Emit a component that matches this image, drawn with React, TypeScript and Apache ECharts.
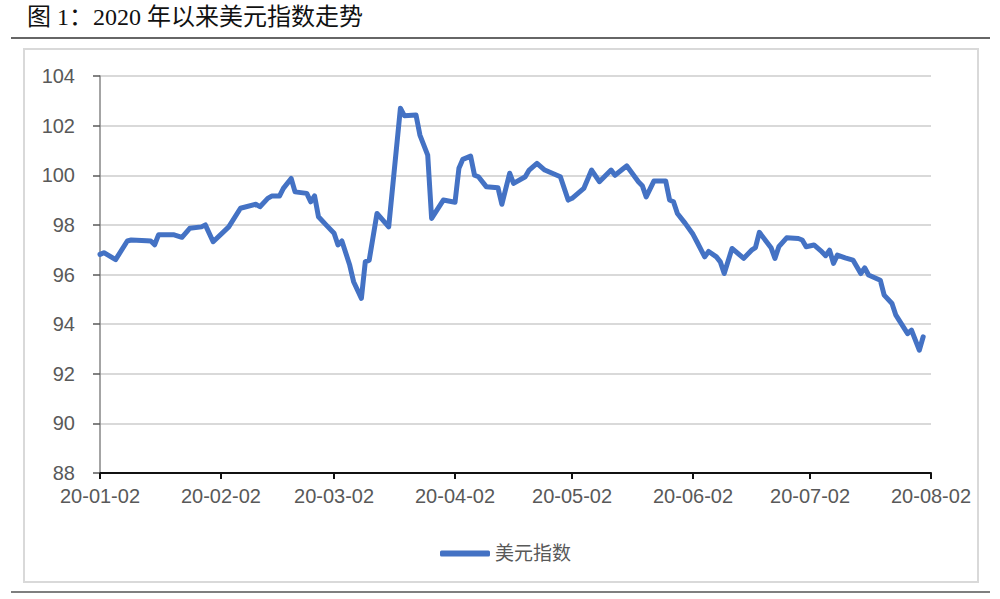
import React, { useEffect, useRef } from "react";
import * as echarts from "echarts";

const titleText = "图 1：2020 年以来美元指数走势";
const seriesName = "美元指数";

const dates = [
  "2020-01-02", "2020-01-03", "2020-01-06", "2020-01-09", "2020-01-10", "2020-01-14", "2020-01-15",
  "2020-01-16", "2020-01-17", "2020-01-21", "2020-01-23", "2020-01-25", "2020-01-28", "2020-01-29",
  "2020-01-31", "2020-02-04", "2020-02-07", "2020-02-11", "2020-02-12", "2020-02-14", "2020-02-15",
  "2020-02-17", "2020-02-18", "2020-02-20", "2020-02-21", "2020-02-24", "2020-02-25", "2020-02-26",
  "2020-02-27", "2020-02-29", "2020-03-02", "2020-03-03", "2020-03-04", "2020-03-06", "2020-03-07",
  "2020-03-09", "2020-03-10", "2020-03-11", "2020-03-13", "2020-03-16", "2020-03-19", "2020-03-20",
  "2020-03-23", "2020-03-24", "2020-03-26", "2020-03-27", "2020-03-30", "2020-04-02", "2020-04-03",
  "2020-04-04", "2020-04-06", "2020-04-07", "2020-04-08", "2020-04-10", "2020-04-13", "2020-04-14",
  "2020-04-16", "2020-04-17", "2020-04-20", "2020-04-21", "2020-04-23", "2020-04-25", "2020-04-29",
  "2020-05-01", "2020-05-02", "2020-05-05", "2020-05-07", "2020-05-09", "2020-05-12", "2020-05-13",
  "2020-05-15", "2020-05-16", "2020-05-19", "2020-05-20", "2020-05-21", "2020-05-23", "2020-05-26",
  "2020-05-27", "2020-05-28", "2020-05-29", "2020-05-31", "2020-06-02", "2020-06-03", "2020-06-05",
  "2020-06-06", "2020-06-08", "2020-06-09", "2020-06-10", "2020-06-12", "2020-06-15", "2020-06-17",
  "2020-06-18", "2020-06-19", "2020-06-22", "2020-06-23", "2020-06-24", "2020-06-26", "2020-06-29",
  "2020-06-30", "2020-07-01", "2020-07-03", "2020-07-05", "2020-07-06", "2020-07-07", "2020-07-08",
  "2020-07-09", "2020-07-11", "2020-07-13", "2020-07-14", "2020-07-15", "2020-07-16", "2020-07-17",
  "2020-07-20", "2020-07-21", "2020-07-23", "2020-07-24", "2020-07-27", "2020-07-28", "2020-07-30",
  "2020-07-31",
];

const dxyValues = [
  96.81, 96.88, 96.6, 97.35, 97.39, 97.36, 97.35,
  97.2, 97.6, 97.6, 97.5, 97.86, 97.92, 98.0,
  97.32, 97.92, 98.67, 98.83, 98.73, 99.07, 99.16,
  99.16, 99.47, 99.87, 99.33, 99.27, 98.93, 99.17,
  98.33, 97.99, 97.66, 97.19, 97.35, 96.38, 95.71,
  95.04, 96.51, 96.58, 98.46, 97.92, 102.7, 102.4,
  102.43, 101.62, 100.81, 98.26, 99.0, 98.91, 100.28,
  100.64, 100.77, 100.0, 99.94, 99.54, 99.5, 98.83,
  100.08, 99.67, 99.94, 100.21, 100.48, 100.21, 99.94,
  99.0, 99.07, 99.47, 100.21, 99.74, 100.21, 100.0,
  100.25, 100.38, 99.74, 99.58, 99.13, 99.77, 99.77,
  99.0, 98.93, 98.46, 98.06, 97.62, 97.32, 96.71,
  96.93, 96.71, 96.51, 96.04, 97.05, 96.65, 96.98,
  97.08, 97.7, 97.08, 96.65, 97.12, 97.48, 97.45,
  97.39, 97.12, 97.19, 96.92, 96.76, 96.98, 96.45,
  96.78, 96.67, 96.58, 96.31, 96.04, 96.27, 95.98,
  95.77, 95.17, 94.83, 94.36, 93.62, 93.76, 92.95,
  93.49,
];

const tickDates = [
  "2020-01-02", "2020-02-02", "2020-03-02", "2020-04-02",
  "2020-05-02", "2020-06-02", "2020-07-02", "2020-08-02",
];
const tickLabels = [
  "20-01-02", "20-02-02", "20-03-02", "20-04-02",
  "20-05-02", "20-06-02", "20-07-02", "20-08-02",
];

const yMin = 88;
const yMax = 104;
const yStep = 2;

function toTs(s: string): number {
  const [y, m, d] = s.split("-").map(Number);
  return Date.UTC(y, m - 1, d);
}

export default function App() {
  const ref = useRef<HTMLDivElement>(null);

  useEffect(() => {
    if (!ref.current) return;
    const chart = echarts.init(ref.current, null, { renderer: "svg" });
    const tickTs = tickDates.map(toTs);
    const labelFont = "'Liberation Sans', Arial, sans-serif";
    const serifFont = "'Liberation Serif', 'Times New Roman', 'Noto Sans CJK SC', serif";

    chart.setOption({
      animation: false,
      backgroundColor: "#ffffff",
      grid: { left: 100, right: 69, top: 76, bottom: 126, containLabel: false },
      xAxis: {
        type: "value",
        min: tickTs[0],
        max: tickTs[tickTs.length - 1],
        axisLine: { show: true, lineStyle: { color: "#111111", width: 2 } },
        axisTick: {
          show: true,
          customValues: tickTs,
          length: 6,
          lineStyle: { color: "#111111", width: 2 },
        },
        axisLabel: {
          customValues: tickTs,
          color: "#595959",
          fontSize: 20,
          fontFamily: labelFont,
          margin: 13,
          hideOverlap: false,
          formatter: (v: number) => {
            const i = tickTs.indexOf(v);
            return i >= 0 ? tickLabels[i] : "";
          },
        },
        splitLine: { show: false },
      },
      yAxis: {
        type: "value",
        min: yMin,
        max: yMax,
        interval: yStep,
        axisLine: { show: true, lineStyle: { color: "#868686", width: 1.5 } },
        axisTick: { show: true, length: 7, lineStyle: { color: "#595959", width: 1.5 } },
        axisLabel: { color: "#595959", fontSize: 20, fontFamily: labelFont, margin: 25 },
        splitLine: { show: true, lineStyle: { color: "#d9d9d9", width: 2 } },
      },
      legend: {
        show: true,
        left: 435,
        top: 539,
        itemWidth: 50,
        itemHeight: 6,
        itemGap: 5,
        textStyle: { color: "#595959", fontSize: 19, fontFamily: serifFont },
        data: [{ name: seriesName, icon: "roundRect", itemStyle: { color: "#4472C4" } }],
      },
      graphic: [
        {
          type: "text",
          left: 27,
          top: 5,
          style: { text: titleText, fontSize: 24, fontFamily: serifFont, fill: "#111111" },
        },
        {
          type: "line",
          shape: { x1: 11, y1: 38, x2: 990, y2: 38 },
          style: { stroke: "#333333", lineWidth: 1.5 },
        },
        {
          type: "rect",
          shape: { x: 24, y: 49, width: 954, height: 533 },
          style: { fill: "none", stroke: "#d9d9d9", lineWidth: 2 },
          z: -1,
        },
        {
          type: "line",
          shape: { x1: 11, y1: 592, x2: 990, y2: 592 },
          style: { stroke: "#555555", lineWidth: 1.5 },
        },
      ],
      series: [
        {
          name: seriesName,
          type: "line",
          data: dates.map((d, i) => [toTs(d), dxyValues[i]]),
          symbol: "none",
          showSymbol: false,
          lineStyle: { color: "#4472C4", width: 5, join: "round", cap: "round" },
          itemStyle: { color: "#4472C4" },
        },
      ],
    });
    return () => chart.dispose();
  }, []);

  return (
    <div
      ref={ref}
      style={{ position: "fixed", left: 0, top: 0, width: 1000, height: 599 }}
    />
  );
}
